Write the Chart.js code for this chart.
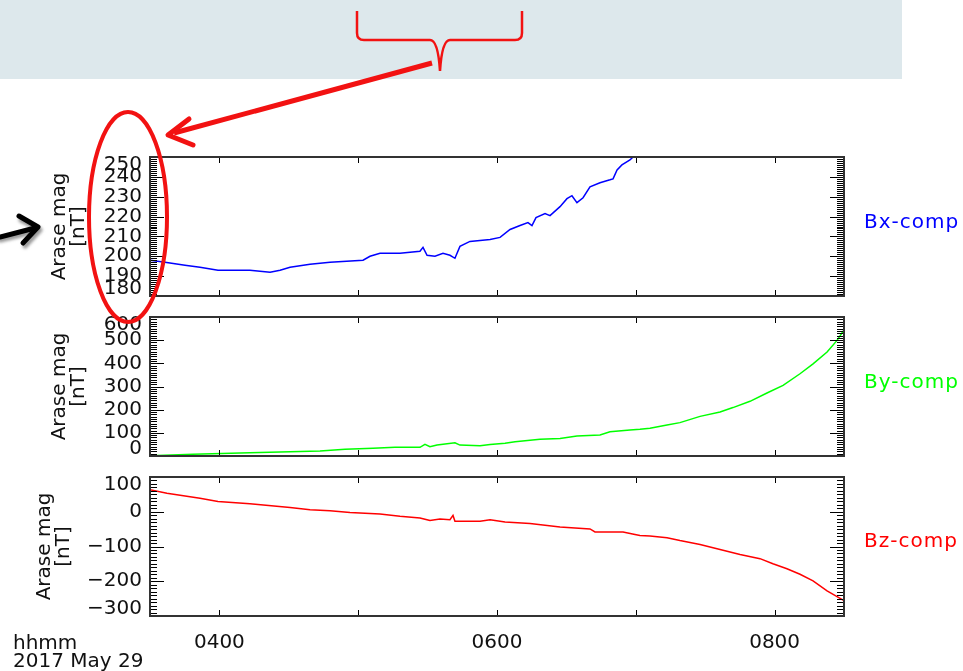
<!DOCTYPE html>
<html>
<head>
<meta charset="utf-8">
<title>Arase mag</title>
<script src="https://cdn.jsdelivr.net/npm/chart.js@4.4.1/dist/chart.umd.min.js"></script>
<style>
  html, body { margin: 0; padding: 0; background: #fff; }
  #stage { position: relative; width: 963px; height: 671px; overflow: hidden; font-family: 'DejaVu Sans', sans-serif; }
  #stage canvas { position: absolute; left: 0; top: 0; }
  .comp { position: absolute; left: 864px; font-size: 20px; line-height: 22px; letter-spacing: 1px; white-space: nowrap; }
  .stamp { position: absolute; left: 13px; font-size: 20px; line-height: 18px; color: #111; white-space: nowrap; }
  #notes { position: absolute; left: 0; top: 0; pointer-events: none; }
</style>
</head>
<body>
<div id="stage">
  <canvas id="bxChart" width="963" height="671"></canvas>
  <canvas id="byChart" width="963" height="671"></canvas>
  <canvas id="bzChart" width="963" height="671"></canvas>

  <div class="comp" style="top:210px;color:#0000ff">Bx-comp</div>
  <div class="comp" style="top:370px;color:#00ff00">By-comp</div>
  <div class="comp" style="top:529px;color:#ff0000">Bz-comp</div>
  <div class="stamp" style="top:633px">hhmm<br>2017 May 29</div>

  <svg id="notes" width="963" height="671">
    <defs>
      <filter id="soft" x="-50%" y="-50%" width="200%" height="200%">
        <feGaussianBlur stdDeviation="1.5"/>
      </filter>
    </defs>
    <rect x="0" y="0" width="902" height="79" fill="#dde8ec"/>
    <path d="M357 11 V33 Q357 40 364 40 H430 Q438 40 440 71 Q442 40 450 40 H515 Q522 40 522 33 V11"
          stroke="#f21212" stroke-width="2.5" fill="none"/>
    <line x1="432" y1="63" x2="174" y2="133" stroke="#f21212" stroke-width="5"/>
    <polyline points="189,119 168,135 193,145" stroke="#f21212" stroke-width="5" fill="none" stroke-linecap="round" stroke-linejoin="round"/>
    <ellipse cx="128" cy="217" rx="39" ry="105" stroke="#f21212" stroke-width="4" fill="none"/>
    <g filter="url(#soft)" stroke="#999" stroke-width="5" fill="none" stroke-linecap="round" stroke-linejoin="round">
      <line x1="0" y1="240" x2="37" y2="231"/>
      <polyline points="21,220 40,230 25,246"/>
    </g>
    <g stroke="#000" stroke-width="5" fill="none" stroke-linecap="round" stroke-linejoin="round">
      <line x1="0" y1="237" x2="35" y2="228"/>
      <polyline points="19,216 38,227 23,243"/>
    </g>
  </svg>
</div>

<script>
// ===========================
// DATA (time in decimal hours UT)
// ===========================
const bxHours  = [3.500, 3.608, 3.752, 3.860, 3.990, 4.220, 4.365, 4.437, 4.509, 4.653, 4.797, 5.035, 5.085,
                  5.157, 5.301, 5.445, 5.467, 5.496, 5.553, 5.611, 5.661, 5.697, 5.733, 5.805, 5.950, 6.022,
                  6.094, 6.166, 6.223, 6.252, 6.281, 6.346, 6.382, 6.454, 6.504, 6.540, 6.576, 6.620, 6.670,
                  6.742, 6.814, 6.836, 6.865, 6.900, 6.958, 6.980, 7.000];
const bxValues = [198, 197, 195.5, 194.5, 193, 193, 192, 193, 194.5, 196, 197, 198, 200,
                  201.5, 201.5, 202.5, 204.5, 200.5, 200, 201.5, 200.5, 199, 205, 207.5, 208.5, 209.5,
                  213.5, 215.5, 217, 215.5, 219.5, 221.5, 220.5, 225, 229, 230.5, 227, 229.5, 235,
                  237, 238.5, 239, 243.5, 246, 248.5, 250, 251.5];

const byHours  = [3.500, 3.810, 4.220, 4.581, 4.725, 4.905, 5.107, 5.265, 5.445, 5.481, 5.517, 5.568, 5.697,
                  5.733, 5.878, 5.950, 6.058, 6.130, 6.310, 6.454, 6.576, 6.742, 6.814, 6.958, 7.030, 7.102,
                  7.225, 7.318, 7.463, 7.607, 7.700, 7.823, 7.945, 8.061, 8.183, 8.277, 8.378, 8.450, 8.500];
const byValues = [1, 8, 14, 19, 21.6, 29, 33, 37.5, 37.5, 50, 40, 47, 57,
                  47, 44, 50, 55, 62, 72, 76, 86, 91, 105, 112, 115, 120,
                  134, 144, 171, 190, 209, 236, 272, 305, 355, 398, 449, 499, 544];

const bzHours  = [3.500, 3.622, 3.860, 3.990, 4.220, 4.509, 4.653, 4.797, 4.941, 5.157, 5.301, 5.445, 5.517,
                  5.589, 5.661, 5.683, 5.697, 5.878, 5.950, 6.058, 6.238, 6.454, 6.670, 6.706, 6.908, 6.994,
                  7.030, 7.102, 7.225, 7.318, 7.463, 7.607, 7.751, 7.895, 7.988, 8.089, 8.183, 8.277, 8.378,
                  8.450, 8.500];
const bzValues = [63, 53, 39, 29.5, 23, 12, 5.7, 3, -2, -6.7, -13, -18, -25,
                  -21, -23, -10.6, -27.6, -27.6, -23, -29.5, -34, -44, -49.5, -58, -58, -65.7,
                  -68.6, -70, -75, -83, -94, -108.6, -123, -135, -149.5, -164, -180, -199, -228,
                  -244, -256];

// tick values / labels
const bxTicks = [180, 190, 200, 210, 220, 230, 240, 250];
const byTicks = [0, 100, 200, 300, 400, 500, 600];
const bzTicks = [-300, -200, -100, 0, 100];
const hourTicks  = [4, 5, 6, 7, 8];
const hourLabels = ['0400', '', '0600', '', '0800'];

const axisTitle = ['Arase mag', '[nT]'];

// ===========================
// IDL-STYLE FRAME PLUGIN
// ===========================
const FONT = "'DejaVu Sans', sans-serif";
Chart.defaults.font.family = FONT;
Chart.defaults.color = '#111';

function fmtTick(v) {
  return v < 0 ? '\u2212' + Math.abs(v) : String(v);
}

const idlFrame = {
  id: 'idlFrame',
  afterDatasetsDraw(chart, args, opts) {
    const { ctx, chartArea: { left, right, top, bottom }, scales: { x, y } } = chart;
    ctx.save();

    // y ticks: 10 minor per major, inward on both sides
    ctx.strokeStyle = '#000';
    ctx.lineWidth = 1;
    ctx.beginPath();
    const minor = opts.major / 10;
    const n = Math.round((y.max - y.min) / minor);
    for (let i = 0; i <= n; i++) {
      const v = y.min + i * minor;
      const isMajor = Math.abs(v / opts.major - Math.round(v / opts.major)) < 1e-6;
      const len = isMajor ? 14 : 7;
      const py = Math.round(y.getPixelForValue(v)) + 0.5;
      ctx.moveTo(left, py); ctx.lineTo(left + len, py);
      ctx.moveTo(right - len, py); ctx.lineTo(right, py);
    }
    // x ticks at each hour, top and bottom
    x.ticks.forEach(t => {
      const px = Math.round(x.getPixelForValue(t.value)) + 0.5;
      ctx.moveTo(px, top); ctx.lineTo(px, top + 6);
      ctx.moveTo(px, bottom - 6); ctx.lineTo(px, bottom);
    });
    ctx.stroke();

    // frame
    ctx.strokeStyle = '#333';
    ctx.lineWidth = 2;
    ctx.strokeRect(left, top, right - left, bottom - top);

    // y labels, pulled inside at the ends like IDL does
    ctx.fillStyle = '#111';
    ctx.font = '20px ' + FONT;
    ctx.textAlign = 'right';
    ctx.textBaseline = 'middle';
    y.ticks.forEach(t => {
      let py = y.getPixelForValue(t.value);
      py = Math.min(Math.max(py, top + 8), bottom - 7);
      ctx.fillText(fmtTick(t.value), left - 8, py);
    });
    ctx.restore();
  }
};

// ===========================
// PANEL BUILDER
// ===========================
function makePanel(id, hours, values, color, ticks, yMin, yMax, major, area, showX, titlePad) {
  const xHeight = showX ? 40 : 0;
  return new Chart(document.getElementById(id), {
    type: 'line',
    data: {
      datasets: [{
        data: hours.map((h, i) => ({ x: h, y: values[i] })),
        borderColor: color,
        borderWidth: 1.5,
        pointRadius: 0,
        tension: 0,
        fill: false
      }]
    },
    options: {
      responsive: false,
      animation: false,
      events: [],
      layout: {
        autoPadding: false,
        padding: { left: 0, right: 963 - 844, top: area.top, bottom: 671 - area.bottom - xHeight }
      },
      plugins: {
        legend: { display: false },
        tooltip: { enabled: false },
        idlFrame: { major: major }
      },
      scales: {
        x: {
          type: 'linear',
          min: 3.5,
          max: 8.5,
          grid: { display: false, drawTicks: false },
          border: { display: false },
          afterBuildTicks: s => { s.ticks = hourTicks.map(v => ({ value: v })); },
          afterFit: s => { s.height = xHeight; },
          ticks: {
            display: showX,
            padding: 15,
            maxRotation: 0,
            autoSkip: false,
            font: { size: 20 },
            callback: v => hourLabels[hourTicks.indexOf(v)] || ''
          }
        },
        y: {
          type: 'linear',
          min: yMin,
          max: yMax,
          grid: { display: false, drawTicks: false },
          border: { display: false },
          afterBuildTicks: s => { s.ticks = ticks.map(v => ({ value: v })); },
          afterFit: s => { s.width = 150; },
          ticks: { display: false },
          title: {
            display: true,
            text: axisTitle,
            font: { size: 20, lineHeight: 0.95 },
            padding: { top: titlePad, bottom: 0 }
          }
        }
      }
    },
    plugins: [idlFrame]
  });
}

document.addEventListener('DOMContentLoaded', function () {
  makePanel('bxChart', bxHours, bxValues, '#0000ff', bxTicks, 180, 250, 10,  { top: 157, bottom: 296 }, false, 50);
  makePanel('byChart', byHours, byValues, '#00ff00', byTicks, 0, 600, 100,   { top: 317, bottom: 456 }, false, 50);
  makePanel('bzChart', bzHours, bzValues, '#ff0000', bzTicks, -300, 100, 100, { top: 477, bottom: 616 }, true, 35);
});
</script>
</body>
</html>
